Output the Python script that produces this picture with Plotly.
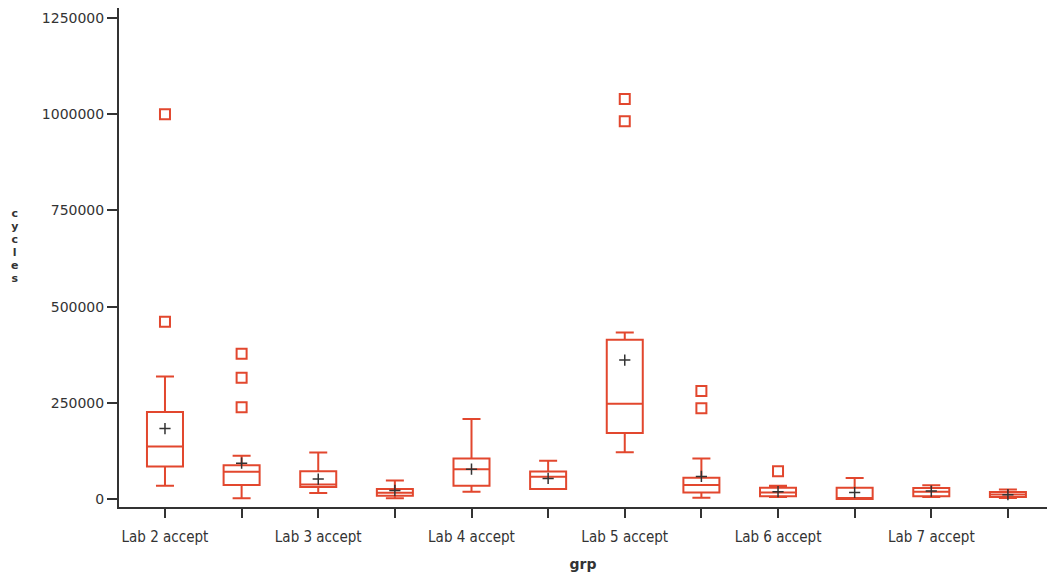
import plotly.graph_objects as go

# Groups along the x axis (only the "accept" groups carry a visible label)
groups = ["Lab 2 accept", "Lab 2 reject", "Lab 3 accept", "Lab 3 reject",
          "Lab 4 accept", "Lab 4 reject", "Lab 5 accept", "Lab 5 reject",
          "Lab 6 accept", "Lab 6 reject", "Lab 7 accept", "Lab 7 reject"]
tick_labels = ["Lab 2 accept", "", "Lab 3 accept", "", "Lab 4 accept", "",
               "Lab 5 accept", "", "Lab 6 accept", "", "Lab 7 accept", ""]

# Box summary statistics for cycles per group
lower_whisker = [34500, 1800, 15500, 1800, 19000, 25900, 121800, 3400, 5200, 0, 5200, 2600]
q1 = [84700, 36300, 31100, 8600, 34500, 25900, 171800, 17300, 7000, 0, 7000, 5200]
median = [136500, 70800, 38000, 16400, 77700, 57800, 247900, 36300, 17300, 0, 19000, 12000]
q3 = [226200, 88100, 72500, 25900, 105400, 71700, 413700, 55200, 29300, 29300, 28500, 18100]
upper_whisker = [318700, 112200, 121000, 48400, 208100, 99300, 432700, 105400, 34500, 54400, 35500, 25100]
means = [183000, 93300, 51800, 22500, 77700, 53600, 361000, 58800, 19000, 17000, 20700, 11200]

# Outlying observations
outlier_groups = ["Lab 2 accept", "Lab 2 accept",
                  "Lab 2 reject", "Lab 2 reject", "Lab 2 reject",
                  "Lab 5 accept", "Lab 5 accept",
                  "Lab 5 reject", "Lab 5 reject",
                  "Lab 6 accept"]
outlier_values = [1000000, 460400,
                  377500, 315300, 238400,
                  1039800, 982000,
                  280600, 235800,
                  72500]

y_title = "cycles"

box_color = "#E2472E"
ink = "#333333"

fig = go.Figure()

fig.add_trace(go.Box(
    x=groups,
    q1=q1, median=median, q3=q3,
    lowerfence=lower_whisker, upperfence=upper_whisker,
    line=dict(color=box_color, width=2),
    fillcolor="rgba(0,0,0,0)",
    whiskerwidth=0.5,
    width=0.47,
    boxpoints=False,
    hoverinfo="skip",
    showlegend=False,
))

fig.add_trace(go.Scatter(
    x=outlier_groups, y=outlier_values, mode="markers",
    marker=dict(symbol="square-open", size=10, color=box_color,
                line=dict(width=2, color=box_color)),
    showlegend=False,
))

fig.add_trace(go.Scatter(
    x=groups, y=means, mode="markers",
    marker=dict(symbol="cross-thin-open", size=8, color=ink,
                line=dict(width=1.5, color=ink)),
    showlegend=False,
))

# Vertical axis title: upright letters stacked one per line. The base font
# sets the line pitch; each letter is drawn a little larger in its own span.
stacked_title = "<br>".join(
    f"<span style='font-size:11px'>{ch}</span>" for ch in y_title
)
plot_top, plot_bottom = 8, 507

fig.update_layout(
    width=1047, height=579,
    margin=dict(l=119, r=0, t=8, b=72),
    paper_bgcolor="white", plot_bgcolor="white",
    font=dict(family="DejaVu Sans, Verdana, sans-serif", color=ink),
    xaxis=dict(
        type="category",
        categoryorder="array", categoryarray=groups,
        tickmode="array", tickvals=groups, ticktext=tick_labels,
        range=[-0.6, 11.51],
        showline=True, linecolor=ink, linewidth=2,
        ticks="outside", ticklen=9, tickwidth=2, tickcolor=ink,
        ticklabelstandoff=6,
        showgrid=False, zeroline=False,
        tickfont=dict(family="Liberation Sans Narrow, Arial Narrow, DejaVu Sans Condensed, sans-serif",
                      size=15, color=ink),
        title=dict(text="<b>grp</b>", font=dict(size=14, color=ink), standoff=14),
    ),
    yaxis=dict(
        range=[-20700, 1276000],
        tickmode="array",
        tickvals=[0, 250000, 500000, 750000, 1000000, 1250000],
        ticktext=["0", "250000", "500000", "750000", "1000000", "1250000"],
        showline=True, linecolor=ink, linewidth=2,
        ticks="outside", ticklen=10, tickwidth=2, tickcolor=ink,
        showgrid=False, zeroline=False,
        tickfont=dict(size=14, color=ink),
    ),
    annotations=[dict(
        text=f"<b>{stacked_title}</b>",
        xref="paper", yref="paper",
        x=-0.113, y=(plot_bottom - 245.5) / (plot_bottom - plot_top),
        xanchor="center", yanchor="middle",
        showarrow=False, align="center",
        font=dict(size=10, color=ink),
    )],
)

fig.write_html("out.html")
